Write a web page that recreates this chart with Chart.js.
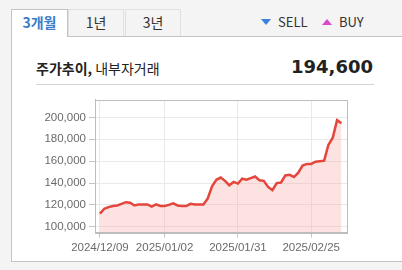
<!DOCTYPE html>
<html>
<head>
<meta charset="utf-8">
<script src="https://cdn.jsdelivr.net/npm/chart.js@4"></script>
<style>
  html, body { margin: 0; padding: 0; }
  body { width: 402px; height: 270px; background: #f4f4f4; position: relative; overflow: hidden;
         font-family: "Noto Sans CJK KR", "Noto Sans", sans-serif; }
  .panel { position: absolute; left: 11px; top: 36px; width: 400px; height: 226px;
           background: #fff; border: 1px solid #c4c4c4; box-sizing: border-box; }
  .tab { position: absolute; top: 9px; height: 27px; box-sizing: border-box; text-align: center;
         font-size: 14px; line-height: 25px; color: #333; border: 1px solid #e0e0e0; border-bottom: none; }
  .tab.on { background: #fff; border-color: #c4c4c4; color: #3d7cc9; font-weight: bold; height: 28px; z-index: 2; }
  .legend { position: absolute; top: 13px; font-size: 13px; color: #333; line-height: 18px; }
  .tri { display: inline-block; width: 0; height: 0; margin-right: 7px; vertical-align: 2px; }
  .down { border-left: 5px solid transparent; border-right: 5px solid transparent; border-top: 6px solid #3b7fe0; }
  .up { border-left: 5px solid transparent; border-right: 5px solid transparent; border-bottom: 6px solid #d54bc9; }
  .title { position: absolute; left: 36px; top: 58px; font-size: 14px; color: #222; line-height: 20px; }
  .price { position: absolute; right: 29px; top: 55px; font-family: "DejaVu Sans", sans-serif;
           font-weight: bold; font-size: 18px; color: #222; line-height: 24px; }
  .sep { position: absolute; left: 36px; top: 84px; width: 338px; height: 1px; background: #d4d4d4; }
  #wrap { position: absolute; left: 20px; top: 90px; width: 340px; height: 170px; }
</style>
</head>
<body>
<div class="panel"></div>
<div class="tab on" style="left:11px;width:57px;">3개월</div>
<div class="tab" style="left:68px;width:56px;">1년</div>
<div class="tab" style="left:125px;width:56px;">3년</div>
<div class="legend" style="left:261px;"><span class="tri down"></span>SELL</div>
<div class="legend" style="left:322px;"><span class="tri up"></span>BUY</div>
<div class="title"><b>주가추이,</b> 내부자거래</div>
<div class="price">194,600</div>
<div class="sep"></div>
<div id="wrap"><canvas id="priceChart"></canvas></div>
<script>
// daily closes, trading days from 2024/12/09
const prices = [
  112000, 116500, 118000, 119000, 119500, 121000, 122500, 122000, 119500, 120500,
  120500, 120500, 118500, 120500, 119000, 119000, 120000, 121500, 119500, 119000,
  119000, 121000, 120500, 120500, 120500, 126000, 137000, 143000, 145000, 142000,
  138000, 141000, 139500, 144000, 143000, 144500, 146000, 142500, 142000, 136500,
  133500, 140000, 140500, 147000, 147500, 145500, 149500, 156000, 157500, 157500,
  159500, 160000, 160500, 175000, 181500, 197500, 194600
];
const xTickIndex = [0, 15, 32, 49];
const xTickLabels = ['2024/12/09', '2025/01/02', '2025/01/31', '2025/02/25'];
const yTicks = [100000, 120000, 140000, 160000, 180000, 200000];

// frame round the plot area
const frame = {
  id: 'frame',
  afterDraw(chart) {
    const { ctx, chartArea: a } = chart;
    ctx.save();
    ctx.strokeStyle = '#bdbdbd';
    ctx.lineWidth = 1;
    ctx.strokeRect(Math.round(a.left) + 0.5, Math.round(a.top) + 0.5,
                   Math.round(a.right - a.left), Math.round(a.bottom - a.top));
    ctx.restore();
  }
};

const ctx = document.getElementById('priceChart').getContext('2d');
const priceChart = new Chart(ctx, {
  type: 'line',
  data: {
    datasets: [{
      data: prices.map((v, i) => ({ x: i, y: v })),
      borderColor: '#e4463c',
      borderWidth: 2.5,
      backgroundColor: 'rgba(246, 170, 165, 0.33)',
      fill: 'start',
      pointRadius: 0,
      tension: 0
    }]
  },
  options: {
    responsive: true,
    maintainAspectRatio: false,
    animation: false,
    layout: { padding: { left: 0, right: 13, top: 4, bottom: 0 } },
    plugins: { legend: { display: false }, tooltip: { enabled: false } },
    scales: {
      x: {
        type: 'linear',
        min: -1.15,
        max: 57.3,
        afterBuildTicks: s => { s.ticks = xTickIndex.map(v => ({ value: v })); },
        afterFit: s => { s.height = 27.5; },
        ticks: {
          autoSkip: false,
          maxRotation: 0,
          padding: 3,
          color: '#6a6a6a',
          font: { family: 'Liberation Sans', size: 11.5 },
          callback: v => xTickLabels[xTickIndex.indexOf(v)]
        },
        grid: { color: '#e9e9e9', tickColor: '#c4c4c4', tickLength: 5 },
        border: { color: '#bdbdbd' }
      },
      y: {
        min: 94800,
        max: 216000,
        afterBuildTicks: s => { s.ticks = yTicks.map(v => ({ value: v })); },
        afterFit: s => { s.width = 75; },
        ticks: {
          padding: 3,
          color: '#6a6a6a',
          font: { family: 'Liberation Sans', size: 11.5 },
          callback: v => v.toLocaleString('en-US')
        },
        grid: { color: '#e9e9e9', tickColor: '#c4c4c4', tickLength: 6 },
        border: { color: '#bdbdbd' }
      }
    }
  },
  plugins: [frame]
});
</script>
</body>
</html>
